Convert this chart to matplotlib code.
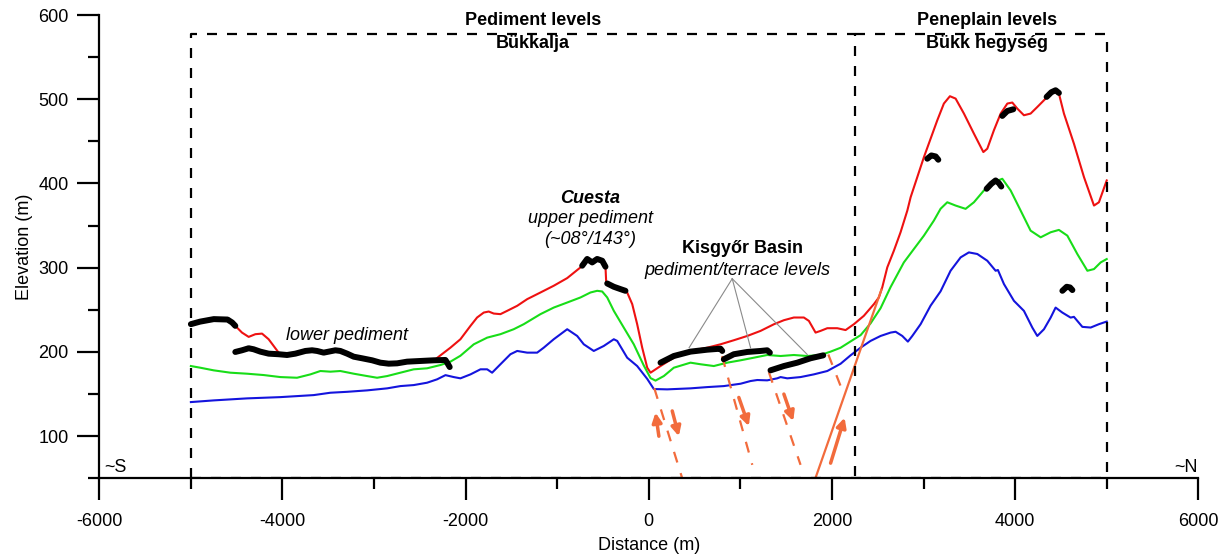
import matplotlib
matplotlib.use('Agg')
import matplotlib.pyplot as plt
from matplotlib.ticker import MultipleLocator

plt.rcParams['font.family'] = ['Liberation Sans', 'DejaVu Sans']
plt.rcParams['axes.unicode_minus'] = False

# profile lines (distance m, elevation m)
red_x = [-5000, -4900, -4750, -4600, -4550, -4515, -4442, -4369, -4296, -4223, -4151, -4096, -4042,
         -3950, -3859, -3750, -3677, -3622, -3550, -3495, -3422, -3368, -3294, -3222, -3131, -3021,
         -2931, -2840, -2748, -2639, -2494, -2400, -2330, -2275, -2166, -2057, -1947, -1875, -1802,
         -1748, -1693, -1620, -1547, -1437, -1328, -1183, -1038, -891, -746, -727, -673, -618, -564,
         -509, -473, -465, -454, -382, -309, -255, -236, -181, -127, -72, -17, 19, 128, 273, 455, 638,
         783, 928, 1075, 1220, 1366, 1475, 1584, 1693, 1748, 1821, 1875, 1949, 2058, 2149, 2240, 2348,
         2458, 2512, 2549, 2604, 2676, 2749, 2823, 2859, 3004, 3150, 3222, 3288, 3350, 3441, 3550,
         3653, 3696, 3768, 3842, 3915, 3969, 4024, 4096, 4169, 4242, 4333, 4424, 4478, 4533, 4642,
         4752, 4861, 4915, 5000]
red_y = [233, 236, 239, 238.5, 235, 231, 223, 217.9, 221.1, 221.8, 215.1, 207.1, 199.2,
         196, 197.5, 200.5, 201.5, 200.5, 198.5, 199.5, 201.5, 200.5, 197.5, 194, 192, 189.5,
         187, 186, 186, 188, 189, 189.5, 191.3, 196, 205.1, 215.1, 231, 240.9, 246.8,
         248, 245.6, 244.9, 248.8, 254.8, 262.7, 270.6, 278.6, 287.7, 300.4, 302.4, 310, 306, 310,
         308, 301, 282.5, 281, 277, 274.5, 272.5, 270.6, 256.8, 233, 205.1, 181.3, 175.4, 183.3, 193.2,
         201.2, 205.1, 209.1, 213.9, 219, 225, 232.9, 237.7, 240.9, 240.9, 236.9, 223, 225, 228.2,
         228.2, 226, 233, 242.9, 256.8, 264.7, 276.6, 300.4, 320.2, 342.1, 367.9, 383.7, 431.3, 475,
         494.9, 503.6, 500.8, 483, 459.2, 437.3, 441.3, 463.1, 483, 494.9, 496.1, 488.9, 481, 483,
         490.8, 500.8, 508.7, 506.8, 483, 447.3, 407.5, 373.8, 377.7, 403.6]

green_x = [-5000, -4897, -4752, -4569, -4387, -4205, -4023, -3841, -3695, -3586, -3477, -3368, -3222,
           -3076, -2967, -2857, -2712, -2567, -2421, -2275, -2166, -2057, -1911, -1765, -1620, -1475,
           -1365, -1183, -1038, -891, -746, -637, -564, -509, -454, -382, -273, -164, -55, 19, 73, 164,
           273, 455, 565, 710, 856, 1002, 1147, 1293, 1439, 1584, 1730, 1875, 1985, 2094, 2203, 2313,
           2422, 2531, 2640, 2785, 2895, 3004, 3113, 3186, 3259, 3350, 3459, 3550, 3659, 3768, 3860,
           3951, 4060, 4169, 4279, 4388, 4478, 4570, 4679, 4789, 4861, 4934, 5000]
green_y = [183.3, 181.3, 178.2, 175.4, 174.2, 172.6, 170.2, 169.4, 173.4, 177.4, 176.6, 177.4, 174.2,
           171.4, 169.4, 171.4, 175.4, 179.4, 180.6, 184.5, 188.5, 195.5, 209.1, 217, 221.1, 227,
           233, 244.9, 252.7, 258.7, 264.7, 270.6, 272.6, 271.8, 264.7, 248.8, 228.9, 209.1, 184, 169,
           166, 171.4, 181.3, 187.3, 185.4, 183.3, 187.3, 190.1, 193.2, 196.4, 195.2, 196.4, 195.2,
           196.4, 200.4, 205, 212.5, 220, 234, 252, 277, 306.3, 322.3, 338.1, 356, 370, 377.7, 373.8,
           369.9, 377.7, 391.7, 401.6, 405.6, 391.7, 367.9, 344, 336.1, 342.1, 344.9, 338.1, 316.3,
           296.4, 298.4, 306.3, 310.3]

blue_x = [-5000, -4752, -4387, -4023, -3659, -3477, -3294, -3076, -2857, -2712, -2567, -2421, -2312,
          -2220, -2130, -2057, -1947, -1838, -1765, -1711, -1620, -1511, -1437, -1328, -1219, -1147,
          -1038, -891, -782, -710, -601, -492, -382, -345, -236, -127, -17, 55, 201, 455, 638, 819,
          1002, 1111, 1184, 1293, 1402, 1439, 1512, 1657, 1802, 1949, 2094, 2203, 2313, 2421, 2531,
          2640, 2695, 2768, 2829, 2877, 2968, 3077, 3186, 3295, 3405, 3495, 3587, 3696, 3787, 3812,
          3878, 3987, 4096, 4188, 4242, 4315, 4388, 4442, 4515, 4606, 4642, 4734, 4825, 4915, 5000]
blue_y = [140.5, 142.5, 144.9, 146.4, 148.8, 151.6, 152.7, 154.4, 156.8, 159.5, 160.7, 163.5, 167.5,
          172.5, 170.2, 168.7, 173.4, 179.4, 179.4, 175.4, 185.4, 197.3, 201.2, 199.2, 199.2, 205.1,
          215.1, 227, 219, 209.1, 201.2, 207.1, 215.1, 213.1, 193.2, 183.3, 168, 156, 155.6, 156.8,
          158.3, 159.5, 162.3, 165.5, 166.7, 166.3, 168.7, 170.2, 168.7, 170.2, 173.4, 177.4, 186,
          196, 205.1, 213.1, 219, 223, 224, 219, 212.3, 219, 233, 255, 272, 296.4, 312.3, 318.2,
          316.3, 308.3, 296.4, 297.3, 280.6, 260.7, 248.8, 228.9, 219, 227, 240.8, 252.7, 246.8,
          240.8, 241.7, 229.8, 229, 233, 236.1]

# mapped planation surface segments
surf_x = [
    [-5000, -4900, -4750, -4600, -4550, -4515],
    [-4515, -4442, -4369, -4315, -4242, -4151, -4042, -3950, -3859, -3750, -3677, -3622, -3550, -3495,
     -3422, -3368, -3294, -3222, -3131, -3021, -2931, -2840, -2748, -2639, -2494, -2348, -2221, -2202, -2174],
    [-727, -673, -618, -564, -509, -473],
    [-454, -382, -309, -255],
    [128, 273, 455, 638, 783, 802],
    [819, 928, 1075, 1220, 1293, 1322],
    [1329, 1475, 1621, 1766, 1905],
    [3041, 3085, 3132, 3161],
    [3860, 3915, 3980],
    [4344, 4395, 4442, 4478],
    [3689, 3740, 3787, 3823, 3849],
    [4516, 4563, 4599, 4625],
]
surf_y = [
    [233, 236, 239, 238.5, 235, 231],
    [200, 202, 204.4, 203.2, 200.4, 198, 197.3, 196.4, 198, 201.2, 202, 201.2, 199.2, 200.4,
     202, 201.2, 198, 194.4, 192.5, 190.1, 187.3, 186.1, 186.5, 188.5, 189.3, 190.1, 190.5, 187.3, 182.1],
    [302.4, 310.4, 306.3, 310.4, 308.3, 301.2],
    [281.3, 277.4, 274.6, 272.6],
    [187.3, 195.2, 200.4, 202.7, 203.9, 201.2],
    [191.3, 197.3, 200, 201.2, 202, 199.2],
    [178.2, 183.3, 187.3, 192.5, 196],
    [429.4, 433.3, 432.1, 428.2],
    [480.2, 486.1, 488.1],
    [502.8, 508.3, 510.7, 507.5],
    [393.7, 399.6, 403.6, 400.4, 396.4],
    [272.6, 277.4, 276.6, 273.5],
]

# faults
fault_x = [[60, 365], [800, 1130], [1311, 1657], [1960, 2100]]
fault_y = [[157, 50], [195, 66], [176, 66], [197, 158]]
thrust_x = [1819, 2540]
thrust_y = [50, 274]
arrow_tail = [(110, 100), (256, 130), (983, 146), (1475, 150), (1985, 68)]
arrow_head = [(73, 128), (328, 100), (1092, 112), (1577, 118), (2138, 122)]

# leader lines to the basin levels
leader_from = (911, 287)
leader_to = [(440, 205), (1111, 205), (1730, 197)]

orange = '#F26B3C'

fig = plt.figure(figsize=(12.26, 5.54), dpi=100)
ax = fig.add_axes([0.081, 0.1366, 0.8964, 0.8363])

ax.plot(red_x, red_y, color='#EE1111', lw=1.5)
ax.plot(green_x, green_y, color='#18DD18', lw=1.5)
ax.plot(blue_x, blue_y, color='#1414DD', lw=1.5)

for sx, sy in zip(surf_x, surf_y):
    ax.plot(sx, sy, color='black', lw=4.3, solid_capstyle='round', solid_joinstyle='round', zorder=4)

for fx, fy in zip(fault_x, fault_y):
    ax.plot(fx, fy, color=orange, lw=1.6, dashes=(5, 5))
ax.plot(thrust_x, thrust_y, color=orange, lw=1.6)
for t, h in zip(arrow_tail, arrow_head):
    ax.annotate('', xy=h, xytext=t,
                arrowprops=dict(arrowstyle='-|>', color=orange, lw=2.5, mutation_scale=14,
                                shrinkA=0, shrinkB=0))

for p in leader_to:
    ax.plot([leader_from[0], p[0]], [leader_from[1], p[1]], color='#8a8a8a', lw=0.8)

# dashed boxes
box_kw = dict(color='black', lw=1.6, dashes=(4.5, 4.5), zorder=5)
ax.plot([-5000, -5000, 2250, 2250], [50, 578, 578, 50], **box_kw)
ax.plot([2250, 5000, 5000], [578, 578, 50], **box_kw)
ax.plot([-5000, 5000], [50, 50], **box_kw)

ax.text(-1265, 594, 'Pediment levels', ha='center', va='center', fontsize=13, fontweight='bold')
ax.text(-1265, 566, 'Bükkalja', ha='center', va='center', fontsize=13, fontweight='bold')
ax.text(3693, 594, 'Peneplain levels', ha='center', va='center', fontsize=13, fontweight='bold')
ax.text(3693, 566, 'Bükk hegység', ha='center', va='center', fontsize=13, fontweight='bold')

ax.text(-636, 382, 'Cuesta', ha='center', va='center', fontsize=13, fontweight='bold', style='italic')
ax.text(-636, 358, 'upper pediment', ha='center', va='center', fontsize=13, style='italic')
ax.text(-636, 333, '(~08°/143°)', ha='center', va='center', fontsize=13, style='italic')
ax.text(1020, 323, 'Kisgyőr Basin', ha='center', va='center', fontsize=13, fontweight='bold')
ax.text(965, 297, 'pediment/terrace levels', ha='center', va='center', fontsize=13, style='italic')
ax.text(-3294, 219, 'lower pediment', ha='center', va='center', fontsize=13, style='italic')
ax.text(-5950, 53, '~S', ha='left', va='bottom', fontsize=13)
ax.text(5990, 53, '~N', ha='right', va='bottom', fontsize=13)

ax.set_xlim(-6000, 6000)
ax.set_ylim(50, 600)
ax.spines['top'].set_visible(False)
ax.spines['right'].set_visible(False)
ax.spines['left'].set_linewidth(1.6)
ax.spines['bottom'].set_linewidth(1.6)
ax.xaxis.set_major_locator(MultipleLocator(2000))
ax.xaxis.set_minor_locator(MultipleLocator(1000))
ax.yaxis.set_major_locator(MultipleLocator(100))
ax.yaxis.set_minor_locator(MultipleLocator(50))
ax.set_yticks([100, 200, 300, 400, 500, 600])
ax.tick_params(which='major', length=16, width=1.6, labelsize=13, pad=6)
ax.tick_params(which='minor', length=8, width=1.6)
ax.tick_params(axis='x', which='major', pad=9)
ax.set_xlabel('Distance (m)', fontsize=13, labelpad=5)
ax.set_ylabel('Elevation (m)', fontsize=13, labelpad=4)

fig.savefig('out.png', dpi=100)
